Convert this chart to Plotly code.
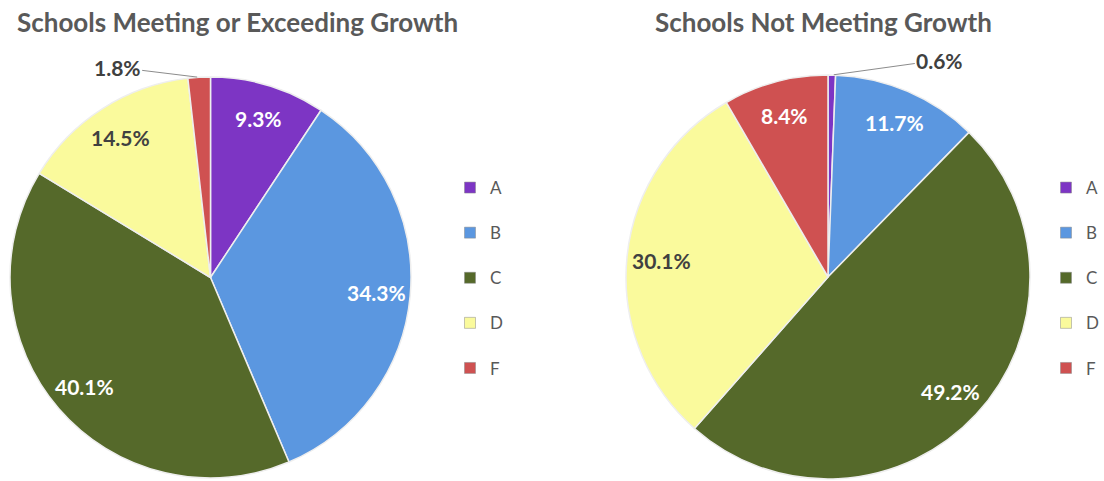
import math
import plotly.graph_objects as go

W, H = 1104, 481

grades = ["A", "B", "C", "D", "F"]
meeting_vals = [9.3, 34.3, 40.1, 14.5, 1.8]
not_meeting_vals = [0.6, 11.7, 49.2, 30.1, 8.4]
titles = ["Schools Meeting or Exceeding Growth", "Schools Not Meeting Growth"]

colors = ["#7D35C4", "#5B97E0", "#55692A", "#FAFA9C", "#CF5151"]
label_colors = ["white", "white", "white", "#404040", "white"]
FONT = "Lato"

# pie placement in pixels (x0, x1, ytop, ybottom)
doms = [(10, 411, 77, 478), (626, 1030, 75, 479)]
title_x = [237, 823]
small_idx = [4, 0]           # slice labelled outside with leader line
small_offset = [(-82, -10), (108, -15)]
LABEL_R = 0.83               # radial position of the in-slice labels

fig = go.Figure()

for k, (vals, dom) in enumerate(zip([meeting_vals, not_meeting_vals], doms)):
    x0, x1, yt, yb = dom
    texts = [f"{v:.1f}%" for v in vals]
    fig.add_trace(go.Pie(
        labels=grades, values=vals, textinfo="none",
        sort=False, direction="clockwise", rotation=0,
        marker=dict(colors=colors, line=dict(color="#EEEEEE", width=1.5)),
        domain=dict(x=[x0 / W, x1 / W], y=[1 - yb / H, 1 - yt / H]),
        showlegend=False, hoverinfo="label+percent",
    ))
    cx, cy = (x0 + x1) / 2, (yt + yb) / 2
    r = min(x1 - x0, yb - yt) / 2
    total = sum(vals)
    for i, v in enumerate(vals):
        mid = (sum(vals[:i]) + v / 2) / total * 2 * math.pi
        if i == small_idx[k]:
            # leader-line label anchored on the slice's outer edge
            px, py = cx + r * math.sin(mid), cy - r * math.cos(mid)
            ax, ay = small_offset[k]
            fig.add_annotation(
                x=px / W, y=1 - py / H, xref="paper", yref="paper",
                text=texts[i], showarrow=True, arrowhead=0, arrowwidth=1,
                arrowcolor="#8C8C8C", ax=ax, ay=ay, standoff=2,
                font=dict(family=FONT, size=21, color="#404040", weight="bold"),
            )
        else:
            px = cx + LABEL_R * r * math.sin(mid)
            py = cy - LABEL_R * r * math.cos(mid)
            fig.add_annotation(
                x=px / W, y=1 - py / H, xref="paper", yref="paper",
                text=texts[i], showarrow=False, xanchor="center", yanchor="middle",
                font=dict(family=FONT, size=21, color=label_colors[i], weight="bold"),
            )
    # title
    fig.add_annotation(
        x=title_x[k] / W, y=1 - 22 / H,
        xref="paper", yref="paper", text=titles[k], showarrow=False,
        xanchor="center", yanchor="middle",
        font=dict(family=FONT, size=26, color="#595959", weight="bold"),
    )

# legends (one per pie) built from marker-only entries
for k, leg in enumerate(["legend", "legend2"]):
    for g, c in zip(grades, colors):
        fig.add_trace(go.Scatter(
            x=[None], y=[None], mode="markers", name=g,
            marker=dict(symbol="square", size=11, color=c,
                        line=dict(color="#888888", width=0.5)),
            legend=leg, legendgroup=f"{leg}{g}", showlegend=True,
        ))

leg_common = dict(
    yanchor="top", bgcolor="rgba(0,0,0,0)",
    font=dict(family=FONT, size=17, color="#595959"),
    tracegroupgap=20, itemclick=False, itemdoubleclick=False,
)
fig.update_layout(
    width=W, height=H, margin=dict(l=0, r=0, t=0, b=0),
    paper_bgcolor="white", plot_bgcolor="white",
    xaxis=dict(visible=False), yaxis=dict(visible=False),
    legend=dict(x=450 / W, y=1 - 170 / H, xanchor="left", **leg_common),
    legend2=dict(x=1, y=1 - 170 / H, xanchor="right", **leg_common),
)

fig.write_html("out.html", config={"displayModeBar": False},
               post_script="document.body.style.margin='0';window.dispatchEvent(new Event('resize'));")
